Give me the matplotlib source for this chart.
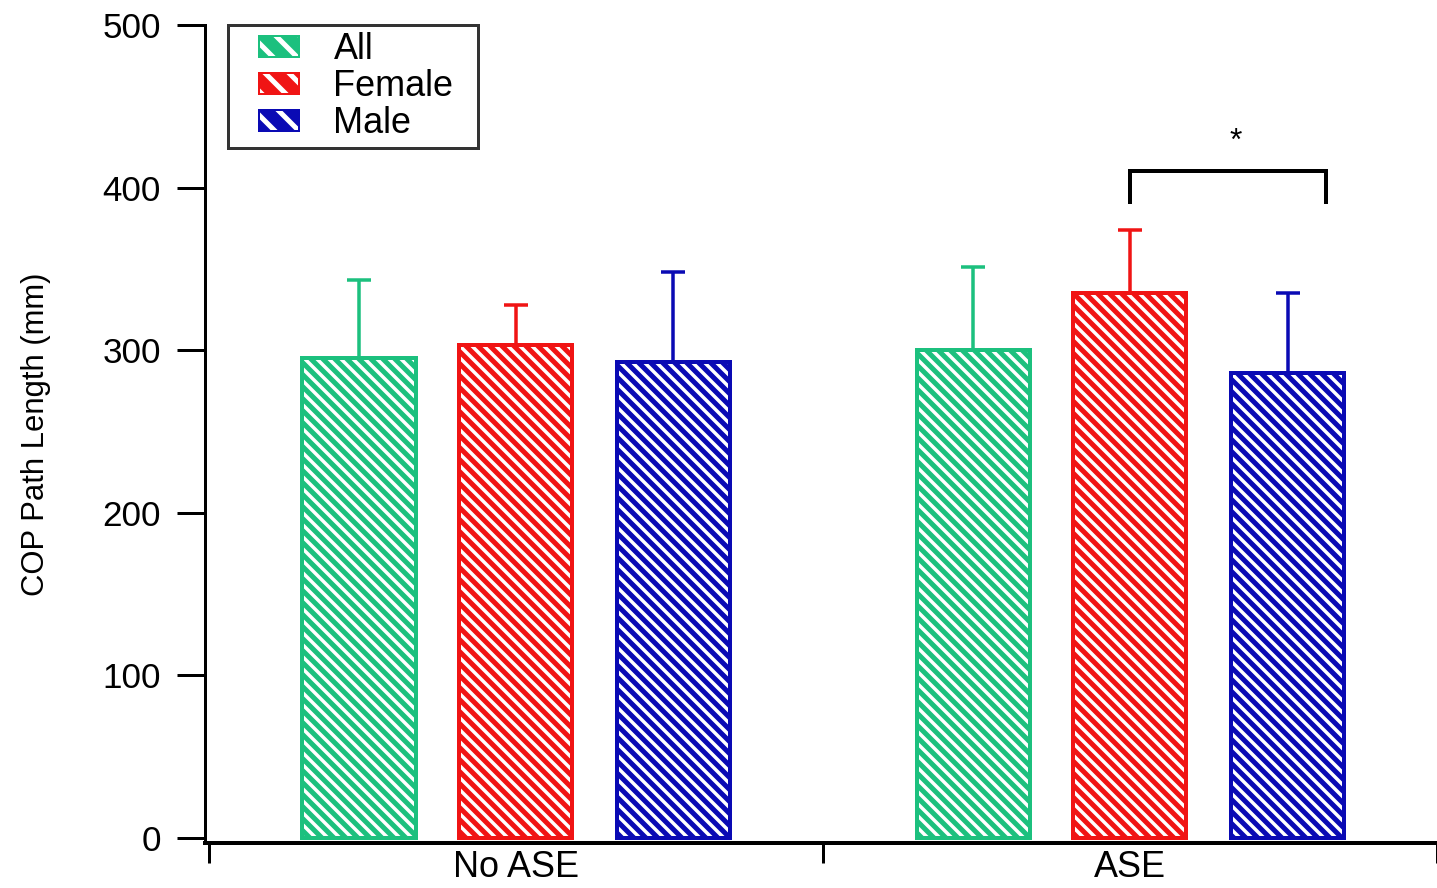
import matplotlib.pyplot as plt
import numpy as np
from matplotlib.legend_handler import HandlerBase
from matplotlib.patches import Rectangle

plt.rcParams['font.family'] = ['Liberation Sans', 'DejaVu Sans']
plt.rcParams['hatch.linewidth'] = 5

groups = ["No ASE", "ASE"]
series = ["All", "Female", "Male"]
colors = ["#1cc07e", "#f01414", "#0a0ab4"]

# mean and upper SD of each bar
means = {
    "All": [295, 300],
    "Female": [303, 335],
    "Male": [293, 286],
}
errs = {
    "All": [48, 51],
    "Female": [25, 39],
    "Male": [55, 49],
}

# significance bracket (ASE: Female vs Male)
bracket_y = 410
bracket_drop = 19
star_y = 428


class HatchBox(HandlerBase):
    # small filled box with white stripes, shifted right inside the handle area
    def create_artists(self, legend, orig_handle, xdescent, ydescent,
                       width, height, fontsize, trans):
        shift = 24
        c = orig_handle.get_edgecolor()
        x0, y0, w, h = -xdescent + shift, -ydescent, width - shift, height
        fill = Rectangle((x0, y0), w, h, facecolor=c, edgecolor='none', transform=trans)
        stripes = Rectangle((x0, y0), w, h, facecolor='none', edgecolor='white',
                            hatch='\\', linewidth=0, transform=trans)
        border = Rectangle((x0, y0), w, h, facecolor='none', edgecolor=c,
                           linewidth=2, transform=trans)
        return [fill, stripes, border]


fig = plt.figure(figsize=(1437 / 72, 888 / 72), dpi=72)
ax = fig.add_axes([205 / 1437, 45 / 888, 1232 / 1437, 818 / 888])

x = np.arange(len(groups))
offsets = [-0.255, 0.0, 0.257]
width = 0.184

handles = []
for i, s in enumerate(series):
    b = ax.bar(x + offsets[i], means[s], width, facecolor='white',
               edgecolor=colors[i], hatch='\\\\', linewidth=4, label=s, zorder=2)
    handles.append(b.patches[0])
    ax.errorbar(x + offsets[i], means[s], yerr=[[0] * len(groups), errs[s]],
                fmt='none', ecolor=colors[i], elinewidth=3.5, capsize=12,
                capthick=3.5, zorder=1)

# bracket + star
bx0 = x[1] + offsets[1]
bx1 = x[1] + 0.32
ax.plot([bx0, bx0, bx1, bx1],
        [bracket_y - bracket_drop, bracket_y, bracket_y, bracket_y - bracket_drop],
        color='black', lw=4, solid_joinstyle='miter')
ax.text((bx0 + bx1) / 2 + 0.012, star_y, '*', ha='center', va='center', fontsize=32)

ax.set_xlim(-0.5057, 1.4628)
ax.set_ylim(-3, 500)
ax.set_yticks([0, 100, 200, 300, 400, 500])
ax.tick_params(axis='y', labelsize=35, length=28, width=3, pad=16)

ax.set_xticks(x)
ax.set_xticklabels(groups, fontsize=36)
ax.set_xticks([-0.5, 0.5, 1.5], minor=True)
ax.tick_params(axis='x', which='major', length=0, pad=7)
ax.tick_params(axis='x', which='minor', length=20, width=3)

ax.spines['top'].set_visible(False)
ax.spines['right'].set_visible(False)
ax.spines['left'].set_linewidth(3)
ax.spines['bottom'].set_linewidth(4)

ax.set_ylabel("COP Path Length (mm)", fontsize=31)
ax.yaxis.set_label_coords(-0.125, 0.5)

leg = ax.legend(handles, series, loc='upper left',
                bbox_to_anchor=(228 / 1437, 740 / 888, 250 / 1437, 123 / 888),
                bbox_transform=fig.transFigure, mode='expand', borderaxespad=0,
                fontsize=36, frameon=True, fancybox=False, edgecolor='black',
                handlelength=1.78, handleheight=0.52, handletextpad=0.95,
                labelspacing=0.05, borderpad=0.2,
                handler_map={Rectangle: HatchBox()})
leg.get_frame().set_linewidth(3)

fig.savefig("out.png", dpi=72, facecolor='white')
